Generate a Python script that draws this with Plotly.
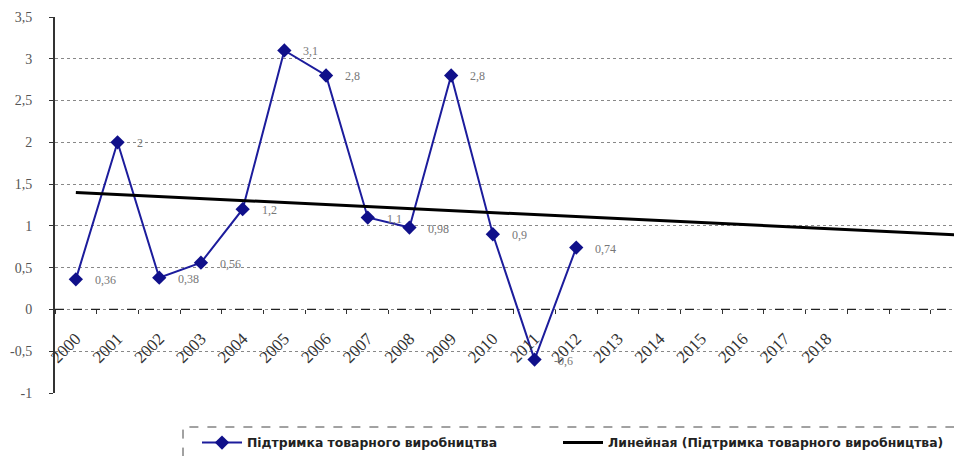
import numpy as np
import plotly.graph_objects as go

years = [str(y) for y in range(2000, 2019)]
values = [0.36, 2, 0.38, 0.56, 1.2, 3.1, 2.8, 1.1, 0.98, 2.8, 0.9, -0.6, 0.74]
value_labels = ["0,36", "2", "0,38", "0,56", "1,2", "3,1", "2,8", "1,1", "0,98", "2,8", "0,9", "-0,6", "0,74"]
y_ticks = [3.5, 3, 2.5, 2, 1.5, 1, 0.5, 0, -0.5, -1]
y_tick_labels = ["3,5", "3", "2,5", "2", "1,5", "1", "0,5", "0", "-0,5", "-1"]
series_name = "Підтримка товарного виробництва"
trend_name = "Линейная (Підтримка товарного виробництва)"

OFF = 8  # page body margin offset
W, H = 962, 456
ml, mr, mt, mb = 55 - OFF, 0, 17 - OFF, H - (393 - OFF)
cat_w = 41.7
ph = H - mt - mb
pw = W - ml - mr
x_max = -0.5 + pw / cat_w

xi = np.arange(len(values))
slope, intercept = np.polyfit(xi, values, 1)
trend_x = [0, 23]
trend_y = [intercept + slope * t for t in trend_x]

fig = go.Figure()
fig.add_trace(go.Scatter(
    x=list(xi), y=values, mode="lines+markers", name=series_name,
    line=dict(color="#1c1c9c", width=2),
    marker=dict(symbol="diamond", size=11, color="#10108a"),
    legend="legend",
))
fig.add_trace(go.Scatter(
    x=trend_x, y=trend_y, mode="lines", name=trend_name,
    line=dict(color="black", width=3),
    legend="legend2",
))

for i, (v, t) in enumerate(zip(values, value_labels)):
    fig.add_annotation(x=i, y=v, text=t, showarrow=False, xanchor="left",
                       yanchor="middle", xshift=17, yshift=-1,
                       font=dict(family="Liberation Serif", size=12, color="#777"))

# zero line (dashed, black)
fig.add_shape(type="line", xref="paper", yref="y", x0=0, x1=1, y0=0, y1=0,
              line=dict(color="#222", width=1.2, dash="dash"), layer="above")

# legend frame (dashed)
fig.add_shape(type="rect", xref="paper", yref="paper",
              x0=(183 - OFF - ml) / pw, x1=1.02,
              y0=-0.3, y1=(H - mb - (427 - OFF)) / ph,
              line=dict(color="#444", width=1, dash="dash"))

leg_font = dict(family="DejaVu Sans", size=12.4, color="#222", weight="bold")
leg_y = (H - mb - (443 - OFF)) / ph
common = dict(orientation="h", xanchor="left", y=leg_y, yanchor="middle",
              font=leg_font, bgcolor="rgba(0,0,0,0)", borderwidth=0, itemwidth=40)

fig.update_layout(
    width=W, height=H,
    margin=dict(l=ml, r=mr, t=mt, b=mb, autoexpand=False),
    plot_bgcolor="white", paper_bgcolor="white",
    showlegend=True,
    legend=dict(x=(197 - OFF - ml) / pw, **common),
    legend2=dict(x=(558 - OFF - ml) / pw, **common),
    xaxis=dict(
        range=[-0.5, x_max], tickmode="array", tickvals=list(range(len(years))),
        ticktext=years, tickangle=-45, ticks="", showgrid=False, automargin=False,
        anchor="free", position=1 / 4.5, showline=False, zeroline=False,
        ticklabelstandoff=15,
        tickfont=dict(family="Liberation Serif", size=17, color="#333"),
        minor=dict(tickmode="linear", tick0=-0.5, dtick=1, ticks="outside",
                   ticklen=4, tickcolor="#333", showgrid=False),
    ),
    yaxis=dict(
        range=[-1, 3.5], tickmode="array", tickvals=y_ticks, ticktext=y_tick_labels,
        showgrid=True, gridcolor="#888", griddash="dot", gridwidth=1, automargin=False,
        zeroline=False, showline=True, linecolor="#333", linewidth=2,
        ticks="outside", ticklen=4, tickcolor="#333", ticklabelstandoff=14,
        tickfont=dict(family="Liberation Serif", size=14, color="#555"),
    ),
)

fig.write_html("out.html")
